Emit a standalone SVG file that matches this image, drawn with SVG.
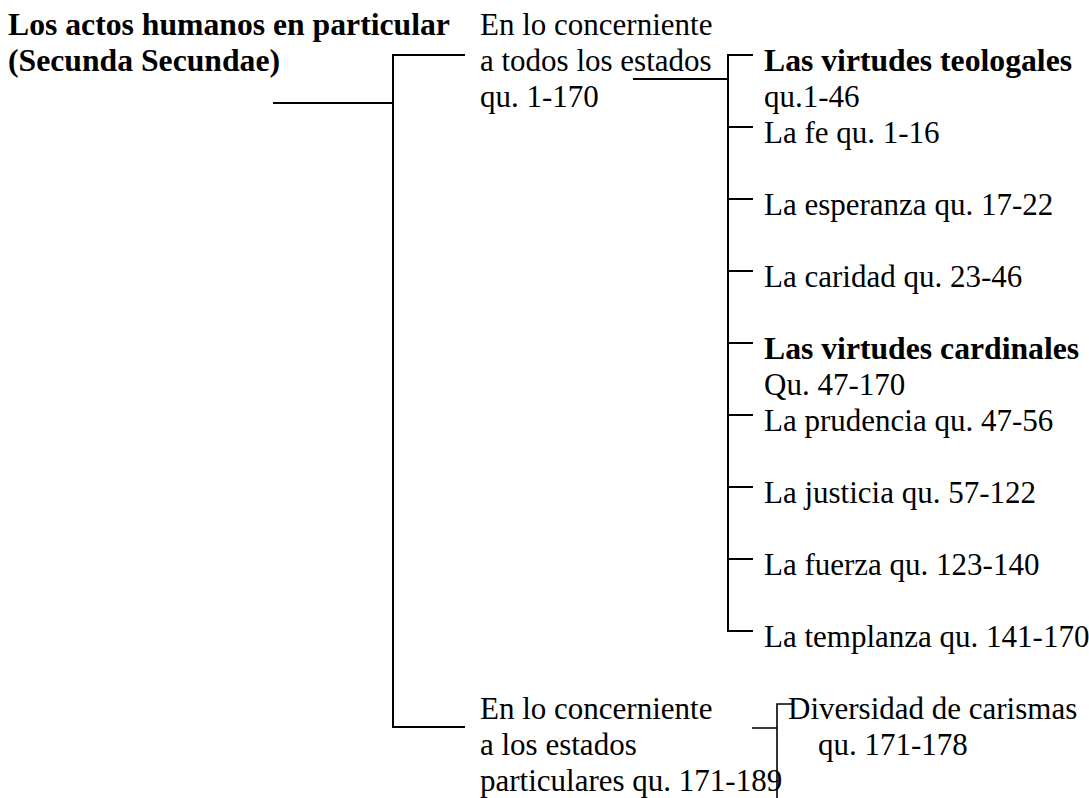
<svg xmlns="http://www.w3.org/2000/svg" width="1089" height="798" viewBox="0 0 1089 798">
<style>
text{font-family:"Liberation Serif","Times New Roman",serif;font-size:31px;fill:#000}
.b{font-weight:bold;font-size:31.7px}
.ln{stroke:#000;stroke-width:2;fill:none}
.thin{stroke:#000;stroke-width:1.6;fill:none}
</style>
<rect width="1089" height="798" fill="#fff"/>
<g id="connectors">
<path class="ln" d="M273 103H393M465 55H393V727H465"/>
<path class="ln" d="M633 79H728M753 55H728V631H753M728 127H753M728 199H753M728 271H753M728 343H753M728 415H753M728 487H753M728 559H753"/>
<path class="thin" d="M752 728H777M792 704H777V798"/>
</g>
<g id="root"><text class="b" x="8" y="35">Los actos humanos en particular</text><text class="b" x="8" y="71">(Secunda Secundae)</text></g>
<g id="todos"><text x="480" y="35">En lo concerniente</text><text x="480" y="71">a todos los estados</text><text x="480" y="107">qu. 1-170</text></g>
<g id="teologales"><text class="b" x="764" y="71">Las virtudes teologales</text><text x="764" y="107">qu.1-46</text></g>
<g id="fe"><text x="764" y="143">La fe qu. 1-16</text></g>
<g id="esperanza"><text x="764" y="215">La esperanza qu. 17-22</text></g>
<g id="caridad"><text x="764" y="287">La caridad qu. 23-46</text></g>
<g id="cardinales"><text class="b" x="764" y="359">Las virtudes cardinales</text><text x="764" y="395">Qu. 47-170</text></g>
<g id="prudencia"><text x="764" y="431">La prudencia qu. 47-56</text></g>
<g id="justicia"><text x="764" y="503">La justicia qu. 57-122</text></g>
<g id="fuerza"><text x="764" y="575">La fuerza qu. 123-140</text></g>
<g id="templanza"><text x="764" y="647">La templanza qu. 141-170</text></g>
<g id="particulares"><text x="480" y="719">En lo concerniente</text><text x="480" y="755">a los estados</text><text x="480" y="791">particulares qu. 171-189</text></g>
<g id="carismas"><text x="788" y="719">Diversidad de carismas</text><text x="818" y="755">qu. 171-178</text></g>
</svg>
